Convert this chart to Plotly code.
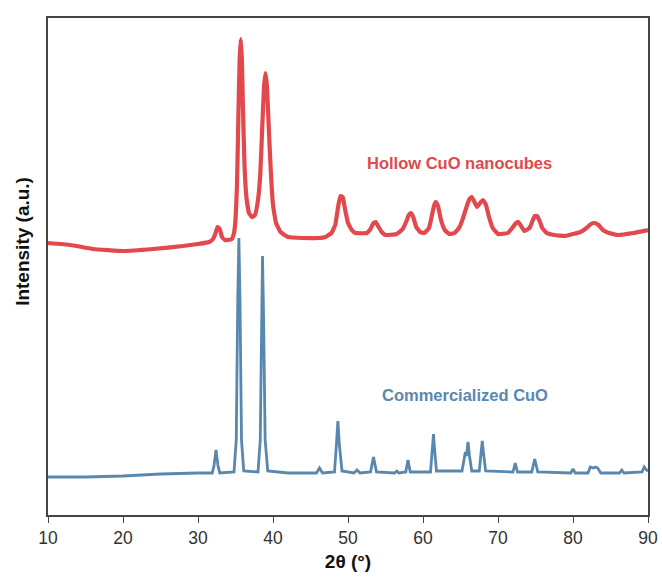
import plotly.graph_objects as go

# Hollow CuO nanocubes (red) : 2theta, intensity (a.u., offset pattern)
red_2theta = [10, 13, 16, 20, 24, 28, 30, 31.5, 32.0, 32.3, 32.6, 32.9, 33.2, 33.6, 34.0, 34.5, 34.8,
              35.0, 35.2, 35.4, 35.55, 35.7, 35.85, 36.0, 36.2, 36.45, 36.8, 37.2, 37.6, 38.0, 38.3,
              38.55, 38.8, 39.0, 39.2, 39.45, 39.7, 40.0, 40.4, 41.0, 42, 44, 46, 47, 47.8, 48.3,
              48.7, 49.0, 49.3, 49.6, 50.0, 50.5, 51, 52.5, 53.0, 53.4, 53.7, 54.0, 54.5, 55, 56.5,
              57.3, 57.8, 58.1, 58.4, 58.7, 59.1, 59.6, 60.2, 60.8, 61.2, 61.5, 61.7, 62.0, 62.4,
              62.9, 63.5, 64.2, 64.8, 65.3, 65.8, 66.2, 66.5, 66.8, 67.2, 67.6, 68.0, 68.4, 68.8,
              69.3, 70, 71.3, 71.9, 72.4, 72.7, 73.0, 73.5, 74.2, 74.6, 74.9, 75.2, 75.5, 75.9,
              76.5, 77.5, 79, 80, 81, 81.8, 82.4, 82.9, 83.4, 84.0, 84.8, 86, 88, 90]
red_int = [272, 270, 266, 264, 266, 269, 271, 273, 276, 281, 288, 286, 278, 275, 275, 276, 282,
           295, 330, 405, 455, 476, 455, 405, 350, 318, 302, 298, 300, 315, 340,
           385, 428, 442, 428, 385, 345, 310, 292, 283, 278, 277, 277, 278, 282, 290,
           309, 319, 318, 306, 292, 285, 282, 282, 286, 292, 293, 289, 283, 280, 281,
           286, 294, 300, 302, 298, 288, 283, 282, 287, 300, 310, 313, 309, 295,
           285, 281, 282, 287, 296, 308, 316, 318, 314, 308, 312, 315, 310, 298,
           287, 281, 282, 287, 292, 293, 290, 284, 287, 294, 299, 299, 295, 287,
           282, 280, 279, 281, 283, 287, 291, 292, 290, 285, 282, 280, 282, 285]

# Commercialized CuO (blue) : 2theta, intensity (a.u.)
blue_2theta = [10, 15, 20, 25, 30, 31.9, 32.15, 32.4, 32.65, 32.9, 34.8, 35.1, 35.3, 35.45, 35.6, 35.8,
               36.1, 38.0, 38.3, 38.45, 38.6, 38.75, 38.95, 39.3, 42, 45.8, 46.2, 46.6, 48.2, 48.45,
               48.65, 48.85, 49.2, 50.8, 51.2, 51.6, 53.0, 53.4, 53.8, 56.2, 56.5, 56.8, 57.7, 58.0,
               58.3, 61.0, 61.25, 61.4, 61.55, 61.8, 65.2, 65.5, 65.65, 65.8, 66.0, 66.2, 66.5, 67.5,
               67.75, 67.9, 68.05, 68.35, 72.0, 72.3, 72.6, 74.5, 74.9, 75.3, 79.7, 80.0, 80.3, 82.0,
               82.3, 82.7, 83.0, 83.3, 83.7, 86.2, 86.5, 86.8, 89.2, 89.5, 89.8, 90]
blue_int = [38, 38, 39, 41, 42, 42, 50, 65, 50, 42, 43, 75, 215, 277, 215, 75,
            44, 43, 75, 195, 259, 195, 75, 44, 42, 42, 47, 42, 43, 70,
            94, 70, 44, 42, 45, 42, 43, 58, 43, 42, 44, 42, 43, 55,
            43, 43, 65, 81, 65, 44, 44, 59, 63, 59, 73, 59, 44, 44,
            63, 74, 63, 44, 43, 52, 43, 43, 56, 43, 42, 46, 42, 42,
            48, 47, 48, 47, 42, 42, 45, 42, 43, 48, 45, 44]

x_ticks = [10, 20, 30, 40, 50, 60, 70, 80, 90]

red_color = "rgb(226,72,76)"
blue_color = "rgb(88,136,176)"
font_fam = "Liberation Sans, Arial, sans-serif"

fig = go.Figure()
fig.add_trace(go.Scatter(x=red_2theta, y=red_int, mode="lines",
                         line=dict(color=red_color, width=4.2, shape="spline", smoothing=0.3),
                         showlegend=False))
fig.add_trace(go.Scatter(x=blue_2theta, y=blue_int, mode="lines",
                         line=dict(color=blue_color, width=2.8),
                         showlegend=False))

fig.add_annotation(x=64.8, y=352, xref="x", yref="y", text="<b>Hollow CuO nanocubes</b>",
                   showarrow=False, font=dict(family=font_fam, size=16.5, color=red_color))
fig.add_annotation(x=65.6, y=120, xref="x", yref="y", text="<b>Commercialized CuO</b>",
                   showarrow=False, font=dict(family=font_fam, size=16.5, color=blue_color))

# y-axis title as a rotated annotation (placed like the reference)
fig.add_annotation(x=-0.043, y=0.55, xref="paper", yref="paper", text="<b>Intensity (a.u.)</b>",
                   textangle=-90, showarrow=False, xanchor="center", yanchor="middle",
                   font=dict(family=font_fam, size=19, color="#111"))

fig.update_layout(
    width=662, height=577,
    margin=dict(l=48, r=14, t=18, b=62),
    plot_bgcolor="white", paper_bgcolor="white",
    font=dict(family=font_fam, color="#333333"),
)
fig.update_xaxes(range=[10, 90], tickvals=x_ticks, ticks="outside", ticklen=6, tickwidth=1.2,
                 tickcolor="#444", showline=True, linecolor="#444", linewidth=1.5, mirror=True,
                 showgrid=False, zeroline=False, automargin=False,
                 tickfont=dict(size=17.5, color="#333"),
                 title=dict(text="<b>2θ (°)</b>", font=dict(size=19, color="#111"), standoff=8))
fig.update_yaxes(range=[0, 497], showticklabels=False, ticks="", showline=True, linecolor="#444",
                 linewidth=1.5, mirror=True, showgrid=False, zeroline=False, automargin=False)

fig.write_html("out.html")
